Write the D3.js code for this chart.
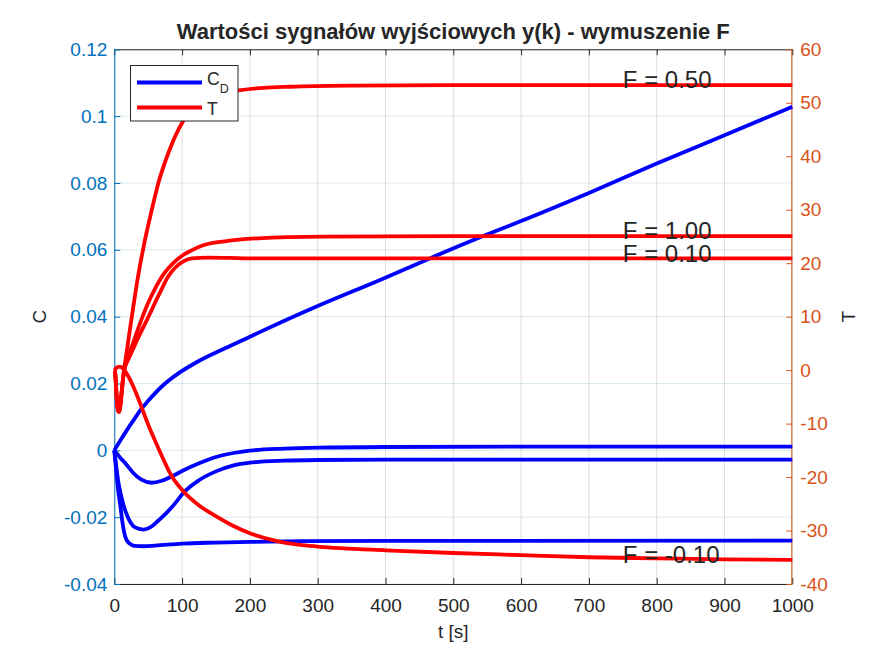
<!DOCTYPE html>
<html>
<head>
<meta charset="utf-8">
<script src="https://cdn.jsdelivr.net/npm/d3@7/dist/d3.min.js"></script>
<style>
  html, body { margin: 0; padding: 0; background: #fff; }
  svg { display: block; font-family: "Liberation Sans", Arial, Helvetica, sans-serif; }
</style>
</head>
<body>
<svg id="chart" width="876" height="657"></svg>
<script>
// ---------------- DATA ----------------
const titleText = "Wartości sygnałów wyjściowych y(k) - wymuszenie F";
const xLabel = "t [s]";
const yLeftLabel = "C";
const yRightLabel = "T";

const xTicks = [0, 100, 200, 300, 400, 500, 600, 700, 800, 900, 1000];
const xTickLabels = ["0", "100", "200", "300", "400", "500", "600", "700", "800", "900", "1000"];
const yLeftTicks = [-0.04, -0.02, 0, 0.02, 0.04, 0.06, 0.08, 0.1, 0.12];
const yLeftTickLabels = ["-0.04", "-0.02", "0", "0.02", "0.04", "0.06", "0.08", "0.1", "0.12"];
const yRightTicks = [-40, -30, -20, -10, 0, 10, 20, 30, 40, 50, 60];
const yRightTickLabels = ["-40", "-30", "-20", "-10", "0", "10", "20", "30", "40", "50", "60"];

const fLabels = ["F = 0.50", "F = 1.00", "F = 0.10", "F = -0.10"];

// C (left axis) curves
const tC_050 = [0, 10, 20, 30, 38, 50, 70, 95, 120, 164, 200, 238, 300, 392, 466, 545, 600, 700, 800, 900, 1000];
const C_050  = [0, 0.0033, 0.0065, 0.0095, 0.0119, 0.0148, 0.0191, 0.0231, 0.0262, 0.0306, 0.0340, 0.0376, 0.0432, 0.0510, 0.0575, 0.0642, 0.0686, 0.0770, 0.0858, 0.0943, 0.1028];

const tC_100 = [0, 5, 10, 16, 20, 28, 40, 55, 70, 85, 100, 125, 150, 176, 200, 250, 300, 400, 600, 1000];
const C_100  = [0, -0.0013, -0.0025, -0.0038, -0.0048, -0.0068, -0.0088, -0.0097, -0.0091, -0.0078, -0.0062, -0.0039, -0.0020, -0.0008, -0.0001, 0.0005, 0.0008, 0.0010, 0.0011, 0.0011];

const tC_010 = [0, 3, 6, 10, 14, 20, 24, 30, 43, 55, 65, 77, 90, 102, 126, 150, 176, 200, 250, 300, 400, 1000];
const C_010  = [0, -0.0050, -0.0095, -0.0135, -0.0167, -0.0200, -0.0216, -0.0230, -0.0237, -0.0228, -0.0210, -0.0187, -0.0158, -0.0127, -0.0088, -0.0063, -0.0045, -0.0037, -0.0031, -0.0029, -0.0028, -0.0028];

const tC_m010 = [0, 3, 6, 9, 12, 16, 20, 25, 30, 43, 60, 100, 150, 200, 275, 400, 1000];
const C_m010  = [0, -0.0065, -0.0125, -0.0167, -0.0215, -0.0257, -0.0274, -0.0282, -0.0286, -0.0287, -0.0285, -0.0279, -0.0276, -0.0274, -0.0272, -0.0271, -0.0270];

// T (right axis) curves
const tT_050 = [0, 1, 2, 3, 4, 5, 6, 7, 8, 9, 10, 11, 12, 13, 14, 15, 18, 21, 25, 30, 35, 40, 45, 55, 65, 80, 90, 102, 120, 140, 160, 183, 220, 260, 350, 500, 1000];
const T_050  = [0, -0.3, -1.8, -4.0, -6.0, -7.2, -7.7, -7.8, -7.4, -6.5, -5.3, -4.0, -2.7, -1.4, -0.4, 0.6, 3.2, 5.8, 9.3, 13.5, 17.5, 21.0, 24.2, 29.8, 35.0, 40.7, 43.8, 46.7, 49.5, 51.1, 51.9, 52.3, 52.8, 53.0, 53.2, 53.3, 53.3];

const tT_100 = [0, 1, 2, 3, 4, 5, 6, 7, 8, 9, 10, 11, 12, 13, 14, 15, 16, 18, 21, 25, 30, 35, 42, 50, 60, 72, 80, 90, 100, 114, 130, 163, 212, 311, 500, 1000];
const T_100  = [0, -0.3, -1.8, -4.0, -6.0, -7.2, -7.7, -7.8, -7.4, -6.5, -5.3, -4.0, -2.7, -1.5, -0.5, 0.2, 0.8, 1.6, 2.7, 4.1, 5.9, 7.7, 10.1, 12.6, 15.2, 17.8, 19.1, 20.4, 21.4, 22.4, 23.3, 24.1, 24.65, 24.95, 25.05, 25.05];

const tT_010 = [0, 1, 2, 3, 4, 5, 6, 7, 8, 9, 10, 11, 12, 13, 14, 15, 16, 18, 21, 25, 30, 35, 45, 52, 60, 67, 79, 90, 100, 114, 138, 170, 200, 1000];
const T_010  = [0, -0.3, -1.8, -4.0, -6.0, -7.2, -7.7, -7.8, -7.4, -6.5, -5.3, -4.0, -2.7, -1.5, -0.5, 0.2, 0.7, 1.3, 2.1, 3.2, 4.6, 6.0, 8.6, 10.4, 12.6, 14.4, 17.4, 19.2, 20.2, 20.9, 21.05, 21.0, 20.9, 20.9];

const tT_m010 = [0, 3, 6, 9, 12, 15, 20, 26, 35, 50, 65, 85, 102, 125, 151, 175, 200, 234, 274, 300, 400, 500, 600, 700, 800, 900, 1000];
const T_m010  = [0, 0.4, 0.6, 0.6, 0.4, 0, -1.0, -2.5, -5.2, -10.2, -14.6, -19.9, -22.7, -25.3, -27.4, -29.1, -30.5, -31.8, -32.7, -33.0, -33.7, -34.2, -34.6, -35.0, -35.2, -35.4, -35.5];

// ---------------- LAYOUT ----------------
const W = 876, H = 657;
const plot = { left: 114.3, right: 792.3, top: 49.3, bottom: 584 };
const colLeft = "#0072BD", colRight = "#D95319", colAxis = "#262626";
const colC = "#0000FF", colT = "#FF0000";
const lineW = 3.8;

const svg = d3.select("#chart");

const x = d3.scaleLinear().domain([0, 1000]).range([plot.left, plot.right]);
const yL = d3.scaleLinear().domain([-0.04, 0.12]).range([plot.bottom, plot.top]);
const yR = d3.scaleLinear().domain([-40, 60]).range([plot.bottom, plot.top]);

// background
svg.append("rect").attr("x", plot.left).attr("y", plot.top)
  .attr("width", plot.right - plot.left).attr("height", plot.bottom - plot.top)
  .attr("fill", "#fff");

// grid
const grid = svg.append("g");
grid.selectAll("line.gx").data(xTicks).join("line")
  .attr("x1", d => x(d)).attr("x2", d => x(d))
  .attr("y1", plot.top).attr("y2", plot.bottom)
  .attr("stroke", colAxis).attr("stroke-opacity", 0.15).attr("stroke-width", 1);
grid.selectAll("line.gy").data(yLeftTicks).join("line")
  .attr("x1", plot.left).attr("x2", plot.right)
  .attr("y1", d => yL(d)).attr("y2", d => yL(d))
  .attr("stroke", colLeft).attr("stroke-opacity", 0.15).attr("stroke-width", 1);

// axes
const tickLen = 6;
const fs = 19;

const axB = svg.append("g").attr("transform", `translate(0,${plot.bottom})`)
  .call(d3.axisBottom(x).tickValues(xTicks).tickSize(-tickLen).tickPadding(15)
    .tickFormat((d, i) => xTickLabels[i]));
const axT = svg.append("g").attr("transform", `translate(0,${plot.top})`)
  .call(d3.axisTop(x).tickValues(xTicks).tickSize(-tickLen).tickFormat(""));
const axL = svg.append("g").attr("transform", `translate(${plot.left},0)`)
  .call(d3.axisLeft(yL).tickValues(yLeftTicks).tickSize(-tickLen).tickPadding(7)
    .tickFormat((d, i) => yLeftTickLabels[i]));
const axR = svg.append("g").attr("transform", `translate(${plot.right},0)`)
  .call(d3.axisRight(yR).tickValues(yRightTicks).tickSize(-tickLen).tickPadding(8)
    .tickFormat((d, i) => yRightTickLabels[i]));

[axB, axT, axL, axR].forEach(a => {
  a.selectAll("text").attr("font-size", fs).attr("font-family", "Liberation Sans, Arial, sans-serif");
  a.select(".domain").attr("stroke-width", 1);
});
axB.selectAll("line, path").attr("stroke", colAxis);
axB.selectAll("text").attr("fill", colAxis);
axT.selectAll("line, path").attr("stroke", colAxis);
axL.selectAll("line, path").attr("stroke", colLeft);
axL.selectAll("text").attr("fill", colLeft);
axR.selectAll("line, path").attr("stroke", colRight);
axR.selectAll("text").attr("fill", colRight);
[axB, axT].forEach(a => a.select(".domain").attr("d", `M${plot.left},0.5H${plot.right}`));
axL.select(".domain").attr("d", `M0.5,${plot.top}V${plot.bottom}`);
axR.select(".domain").attr("d", `M-0.5,${plot.top}V${plot.bottom}`);

// lines
const mk = (ts, vs) => ts.map((t, i) => [t, vs[i]]);
const lineL = d3.line().x(d => x(d[0])).y(d => yL(d[1])).curve(d3.curveMonotoneX);
const lineR = d3.line().x(d => x(d[0])).y(d => yR(d[1])).curve(d3.curveMonotoneX);

const cSeries = [mk(tC_050, C_050), mk(tC_100, C_100), mk(tC_010, C_010), mk(tC_m010, C_m010)];
const tSeries = [mk(tT_050, T_050), mk(tT_100, T_100), mk(tT_010, T_010), mk(tT_m010, T_m010)];

svg.append("g").selectAll("path").data(cSeries).join("path")
  .attr("d", lineL).attr("fill", "none").attr("stroke", colC)
  .attr("stroke-width", lineW).attr("stroke-linejoin", "round");
svg.append("g").selectAll("path").data(tSeries).join("path")
  .attr("d", lineR).attr("fill", "none").attr("stroke", colT)
  .attr("stroke-width", lineW).attr("stroke-linejoin", "round");

// F labels
svg.append("g").selectAll("text").data(tSeries).join("text")
  .attr("x", x(750)).attr("y", d => yR(d[d.length - 1][1]) + 3.3)
  .attr("font-size", 24).attr("fill", colAxis)
  .text((d, i) => fLabels[i]);

// title
svg.append("text").attr("x", (plot.left + plot.right) / 2).attr("y", 39)
  .attr("text-anchor", "middle").attr("font-size", 22).attr("font-weight", "bold")
  .attr("fill", colAxis).text(titleText);

// axis labels
svg.append("text").attr("x", (plot.left + plot.right) / 2).attr("y", 638)
  .attr("text-anchor", "middle").attr("font-size", fs).attr("fill", colAxis).text(xLabel);
svg.append("text").attr("transform", `translate(46,${(plot.top + plot.bottom) / 2}) rotate(-90)`)
  .attr("text-anchor", "middle").attr("font-size", fs).attr("fill", colAxis).text(yLeftLabel);
svg.append("text").attr("transform", `translate(855,${(plot.top + plot.bottom) / 2}) rotate(-90)`)
  .attr("text-anchor", "middle").attr("font-size", fs).attr("fill", colAxis).text(yRightLabel);

// legend
const lg = svg.append("g");
lg.append("rect").attr("x", 130.5).attr("y", 65.5).attr("width", 107.5).attr("height", 55.5)
  .attr("fill", "#fff").attr("stroke", colAxis).attr("stroke-width", 1);
lg.append("line").attr("x1", 137).attr("x2", 202).attr("y1", 82.5).attr("y2", 82.5)
  .attr("stroke", colC).attr("stroke-width", lineW);
lg.append("line").attr("x1", 137).attr("x2", 202).attr("y1", 107.5).attr("y2", 107.5)
  .attr("stroke", colT).attr("stroke-width", lineW);
const lt1 = lg.append("text").attr("x", 207).attr("y", 85).attr("font-size", 17.5).attr("fill", colAxis);
lt1.append("tspan").text("C");
lt1.append("tspan").attr("font-size", 12.5).attr("dy", 8.3).text("D");
lg.append("text").attr("x", 207).attr("y", 115).attr("font-size", 17.5).attr("fill", colAxis).text("T");
</script>
</body>
</html>
